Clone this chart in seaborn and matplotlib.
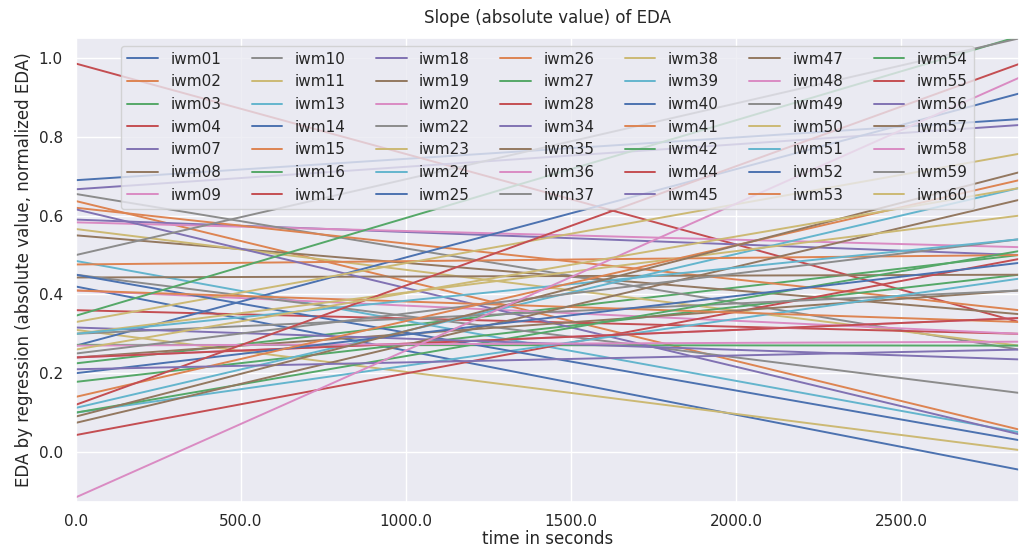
import numpy as np
import pandas as pd
import seaborn as sns
import matplotlib
matplotlib.use("Agg")
import matplotlib.pyplot as plt
from matplotlib.ticker import FormatStrFormatter

subjects = ["iwm01", "iwm02", "iwm03", "iwm04", "iwm07", "iwm08", "iwm09",
            "iwm10", "iwm11", "iwm13", "iwm14", "iwm15", "iwm16", "iwm17",
            "iwm18", "iwm19", "iwm20", "iwm22", "iwm23", "iwm24", "iwm25",
            "iwm26", "iwm27", "iwm28", "iwm34", "iwm35", "iwm36", "iwm37",
            "iwm38", "iwm39", "iwm40", "iwm41", "iwm42", "iwm44", "iwm45",
            "iwm47", "iwm48", "iwm49", "iwm50", "iwm51", "iwm52", "iwm53",
            "iwm54", "iwm55", "iwm56", "iwm57", "iwm58", "iwm59", "iwm60"]

# regression value at t = 0 s
start_values = [0.69, 0.637, 0.225, 0.986, 0.59, 0.55, 0.583,
                0.655, 0.566, 0.485, 0.42, 0.62, 0.178, 0.36,
                0.667, 0.443, 0.41, 0.45, 0.31, 0.112, 0.27,
                0.476, 0.272, 0.043, 0.616, 0.24, 0.24, 0.30,
                0.33, 0.10, 0.45, 0.41, 0.10, 0.24, 0.316,
                0.074, 0.27, 0.25, 0.30, 0.30, 0.20, 0.14,
                0.346, 0.12, 0.21, 0.09, -0.115, 0.50, 0.26]

# regression value at t = t_end
end_values = [0.845, 0.057, 0.50, 0.33, 0.50, 0.35, 0.52,
              0.26, 0.27, 0.05, -0.045, 0.36, 0.45, 0.30,
              0.83, 0.45, 0.30, 0.15, 0.005, 0.67, 0.91,
              0.50, 0.27, 0.49, 0.045, 0.41, 0.34, 0.41,
              0.757, 0.44, 0.03, 0.33, 0.51, 0.34, 0.235,
              0.64, 0.28, 0.54, 0.60, 0.54, 0.48, 0.69,
              1.055, 0.985, 0.26, 0.71, 0.95, 1.05, 0.67]

t_start = 0.0
t_end = 2857.0

rows = []
for s, a, b in zip(subjects, start_values, end_values):
    rows.append({"time": t_start, "value": a, "subject": s})
    rows.append({"time": t_end, "value": b, "subject": s})
df = pd.DataFrame(rows)

sns.set_theme(style="darkgrid", context="notebook")
plt.rcParams['font.family'] = ['DejaVu Sans']
plt.rcParams['xtick.major.pad'] = 2.5

W, H = 1019, 549
fig = plt.figure(figsize=(W / 100, H / 100), dpi=100)
left, right, top, bottom = 76, 1019, 38, 502
ax = fig.add_axes([left / W, 1 - bottom / H, (right - left) / W, (bottom - top) / H])

sns.lineplot(data=df, x="time", y="value", hue="subject",
             palette=sns.color_palette("deep", len(subjects)), ax=ax, linewidth=1.4)

ax.set_xlim(0, t_end)
ax.set_ylim(-0.127, 1.051)
ax.xaxis.set_major_formatter(FormatStrFormatter('%.1f'))
ax.yaxis.set_major_formatter(FormatStrFormatter('%.1f'))
ax.set_xlabel("time in seconds", labelpad=1)
ax.set_ylabel("EDA by regression (absolute value, normalized EDA)")
ax.set_title("Slope (absolute value) of EDA", pad=11)

sns.move_legend(ax, "upper center", ncol=7, title=None, frameon=True)

fig.savefig("out.png", dpi=100)
